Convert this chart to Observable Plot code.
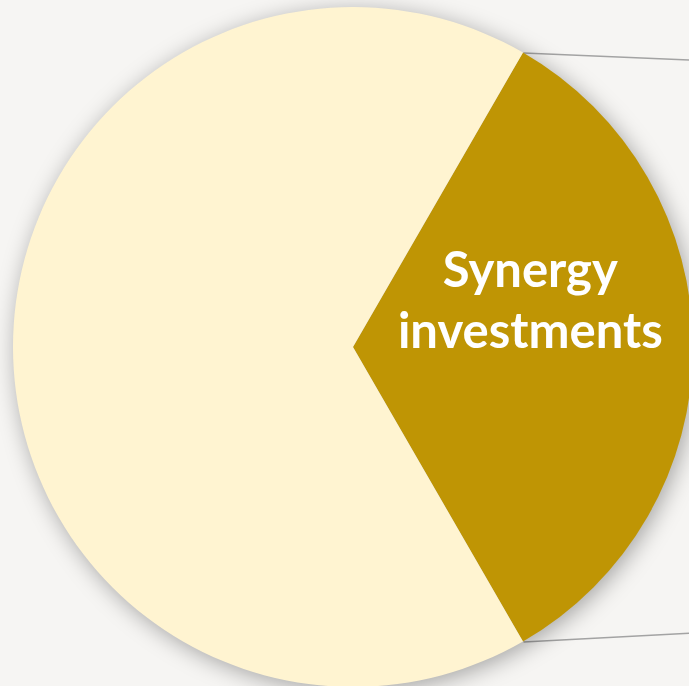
<!DOCTYPE html>
<html>
<head>
<meta charset="utf-8">
<script src="https://cdn.jsdelivr.net/npm/d3@7"></script>
<script src="https://cdn.jsdelivr.net/npm/@observablehq/plot@0.6"></script>
<style>
  html, body { margin: 0; padding: 0; background: #f6f5f3; overflow: hidden; }
  #chart svg { display: block; }
</style>
</head>
<body>
<div id="chart"></div>
<script>
// Data
const categories = ["Synergy investments", "Other"];
const values = [1, 2];
const sliceColors = ["#bf9504", "#fff4d1"];
const labelLines = ["Synergy", "investments"];
// connector lines run off-frame toward the secondary (pie-of-pie) chart
const secondaryTop = [1.03, 0.844];
const secondaryBottom = [1.03, -0.838];

const slices = categories.map((c, i) => ({category: c, value: values[i], color: sliceColors[i]}));

// pie angles (clockwise from 12 o'clock); first slice starts at 30°
const pieGen = d3.pie().value(d => d.value).sort(null).startAngle(Math.PI / 6).endAngle(Math.PI / 6 + 2 * Math.PI);
const arcs = pieGen(slices);

function pieMark(index, scales, values, dimensions) {
  const cx = scales.x(0), cy = scales.y(0);
  const r = scales.x(1) - scales.x(0);
  const svgNS = "http://www.w3.org/2000/svg";
  const g = document.createElementNS(svgNS, "g");
  g.setAttribute("style", "filter: drop-shadow(3px 4px 11px rgba(0,0,0,0.33))");
  const arcGen = d3.arc().innerRadius(0).outerRadius(r);
  for (const a of arcs) {
    const p = document.createElementNS(svgNS, "path");
    p.setAttribute("d", arcGen(a));
    p.setAttribute("transform", `translate(${cx},${cy})`);
    p.setAttribute("fill", a.data.color);
    g.appendChild(p);
  }
  return g;
}

// connector endpoints (slice edge -> secondary chart)
const a0 = arcs[0];
const edgeTop = [Math.sin(a0.startAngle), Math.cos(a0.startAngle)];
const edgeBottom = [Math.sin(a0.endAngle), Math.cos(a0.endAngle)];
const connectors = [
  {x1: edgeTop[0], y1: edgeTop[1], x2: secondaryTop[0], y2: secondaryTop[1]},
  {x1: edgeBottom[0], y1: edgeBottom[1], x2: secondaryBottom[0], y2: secondaryBottom[1]}
];

// label placed along the slice's mid angle
const mid = (a0.startAngle + a0.endAngle) / 2;
const labelR = 0.52;
const labelData = [{x: Math.sin(mid) * labelR, y: Math.cos(mid) * labelR + 0.145, text: labelLines.join("\n")}];

const chart = Plot.plot({
  width: 689,
  height: 686,
  margin: 0,
  style: {background: "#f6f5f3", overflow: "hidden"},
  x: {domain: [-1, 1], range: [13, 693], axis: null},
  y: {domain: [-1, 1], range: [687, 7], axis: null},
  marks: [
    Plot.link(connectors, {x1: "x1", y1: "y1", x2: "x2", y2: "y2", stroke: "#a3a3a3", strokeWidth: 1.5}),
    pieMark,
    Plot.text(labelData, {
      x: "x", y: "y", text: "text",
      fill: "white",
      fontSize: 49,
      fontWeight: "bold",
      fontFamily: "Lato, 'Open Sans', sans-serif",
      lineHeight: 1.23,
      textAnchor: "middle",
      style: "filter: drop-shadow(2px 2px 2px rgba(60,40,0,0.6))"
    })
  ]
});
document.getElementById("chart").appendChild(chart);
</script>
</body>
</html>
